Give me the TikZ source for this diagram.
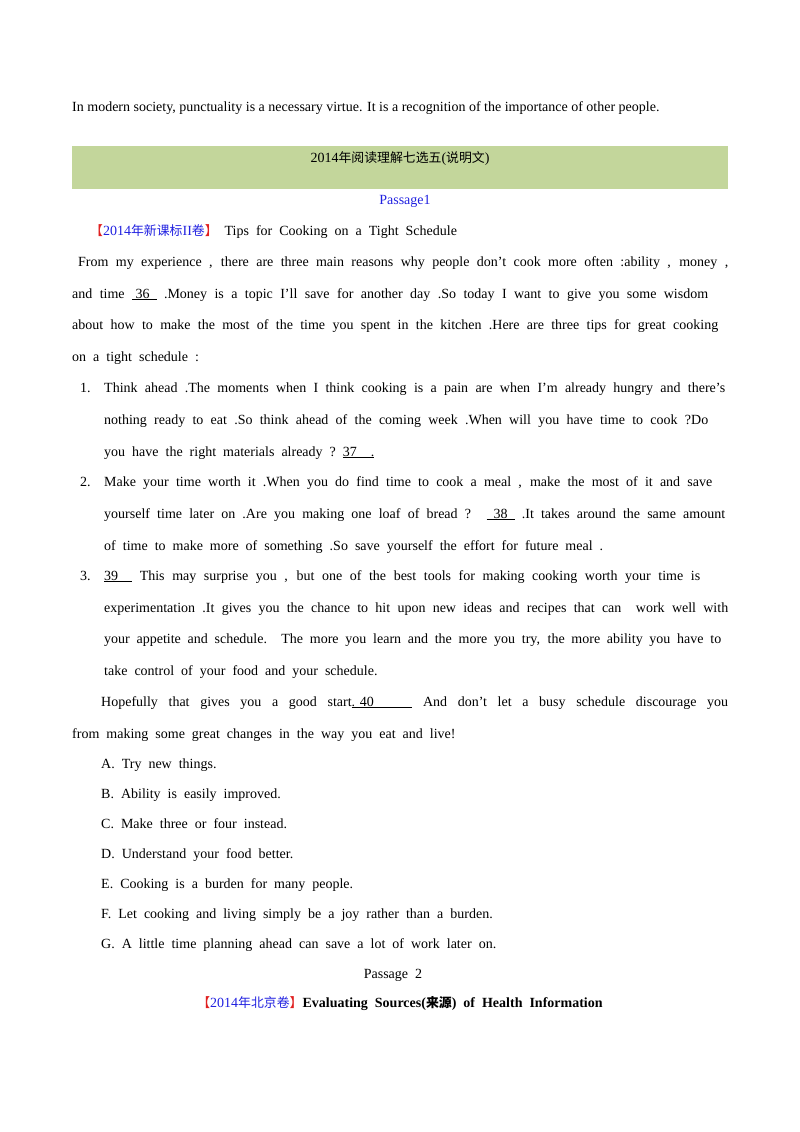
\documentclass[tikz,border=0pt]{standalone}
\usepackage{fontspec}
\setmainfont{Liberation Serif}
\newfontfamily\cjk{Noto Sans CJK SC}[Scale=0.92]
\definecolor{hdr}{HTML}{C3D69B}
\definecolor{pblue}{HTML}{2020E0}
\definecolor{pred}{HTML}{E02020}
\begin{document}
\begin{tikzpicture}[x=1pt,y=1pt,
  ln/.style={anchor=base west,inner sep=0pt,font=\fontsize{14}{16}\selectfont},
  ct/.style={anchor=base,inner sep=0pt,font=\fontsize{14}{16}\selectfont}]
\useasboundingbox (0,0) rectangle (800,-1132);
\newcommand\J[2]{\makebox[#1pt][s]{#2}}
\newcommand\bl[1]{\underline{#1}}
\newcommand\lb{{\color{pred}\cjk 【}}
\newcommand\rb{{\color{pred}\cjk 】}}
\fill[hdr] (72,-146) rectangle (728,-189);
\node[ln] (l0) at (72,-111) {In modern society, punctuality is a necessary virtue. It is a recognition of the importance of other people.};
\node[ct] (h) at (400,-162) {2014{\cjk 年阅读理解七选五}({\cjk 说明文})};
\node[ct,text=pblue] (p1) at (405,-204) {Passage1};
\node[ln] (t1) at (90,-235) {\lb{\color{pblue}2014{\cjk 年新课标}II{\cjk 卷}}\rb\ \ Tips\ \ for\ \ Cooking\ \ on\ \ a\ \ Tight\ \ Schedule};
\node[ln] (a1) at (78,-266) {\J{650}{From my experience , there are three main reasons why people don’t cook more often :ability , money ,}};
\node[ln] (a2) at (72,-298) {\J{636}{and time \bl{\ 36\ \ } .Money is a topic I’ll save for another day .So today I want to give you some wisdom}};
\node[ln] (a3) at (72,-329) {\J{646}{about how to make the most of the time you spent in the kitchen .Here are three tips for great cooking}};
\node[ln] (a4) at (72,-361) {on\ \ a\ \ tight\ \ schedule\ \ :};
\node[ln] (n1) at (80,-392) {1.};
\node[ln] (b1) at (104,-392) {\J{621}{Think ahead .The moments when I think cooking is a pain are when I’m already hungry and there’s}};
\node[ln] (b2) at (104,-424) {\J{604}{nothing ready to eat .So think ahead of the coming week .When will you have time to cook ?Do}};
\node[ln] (b3) at (104,-456) {you\ \ have\ \ the\ \ right\ \ materials\ \ already\ \ ?\ \ \bl{37\ \ \ \ .}};
\node[ln] (n2) at (80,-486) {2.};
\node[ln] (c1) at (104,-486) {\J{608}{Make your time worth it .When you do find time to cook a meal , make the most of it and save}};
\node[ln] (c2) at (104,-518) {\J{621}{yourself time later on .Are you making one loaf of bread ? \bl{\ \ 38\ \ } .It takes around the same amount}};
\node[ln] (c3) at (104,-550) {of\ \ time\ \ to\ \ make\ \ more\ \ of\ \ something\ \ .So\ \ save\ \ yourself\ \ the\ \ effort\ \ for\ \ future\ \ meal\ \ .};
\node[ln] (n3) at (80,-580) {3.};
\node[ln] (d1) at (104,-580) {\J{596}{\bl{39\ \ \ \ } This may surprise you , but one of the best tools for making cooking worth your time is}};
\node[ln] (d2) at (104,-612) {\J{624}{experimentation .It gives you the chance to hit upon new ideas and recipes that can \ work well with}};
\node[ln] (d3) at (104,-643) {\J{617}{your appetite and schedule. The more you learn and the more you try, the more ability you have to}};
\node[ln] (d4) at (104,-675) {take\ \ control\ \ of\ \ your\ \ food\ \ and\ \ your\ \ schedule.};
\node[ln] (e1) at (101,-706) {\J{627}{Hopefully that gives you a good start\bl{. 40\ \ \ \ \ \ \ \ \ \ \ } And don’t let a busy schedule discourage you}};
\node[ln] (e2) at (72,-738) {from\ \ making\ \ some\ \ great\ \ changes\ \ in\ \ the\ \ way\ \ you\ \ eat\ \ and\ \ live!};
\node[ln] (oA) at (101,-768) {A.\ \ Try\ \ new\ \ things.};
\node[ln] (oB) at (101,-798) {B.\ \ Ability\ \ is\ \ easily\ \ improved.};
\node[ln] (oC) at (101,-828) {C.\ \ Make\ \ three\ \ or\ \ four\ \ instead.};
\node[ln] (oD) at (101,-858) {D.\ \ Understand\ \ your\ \ food\ \ better.};
\node[ln] (oE) at (101,-888) {E.\ \ Cooking\ \ is\ \ a\ \ burden\ \ for\ \ many\ \ people.};
\node[ln] (oF) at (101,-918) {F.\ \ Let\ \ cooking\ \ and\ \ living\ \ simply\ \ be\ \ a\ \ joy\ \ rather\ \ than\ \ a\ \ burden.};
\node[ln] (oG) at (101,-948) {G.\ \ A\ \ little\ \ time\ \ planning\ \ ahead\ \ can\ \ save\ \ a\ \ lot\ \ of\ \ work\ \ later\ \ on.};
\node[ct] (p2) at (393,-978) {Passage\ \ 2};
\node[ct] (t2) at (400,-1007) {\lb{\color{pblue}2014{\cjk 年北京卷}}\rb\textbf{Evaluating\ \ Sources({\cjk\bfseries 来源})\ \ of\ \ Health\ \ Information}};
\end{tikzpicture}
\end{document}
